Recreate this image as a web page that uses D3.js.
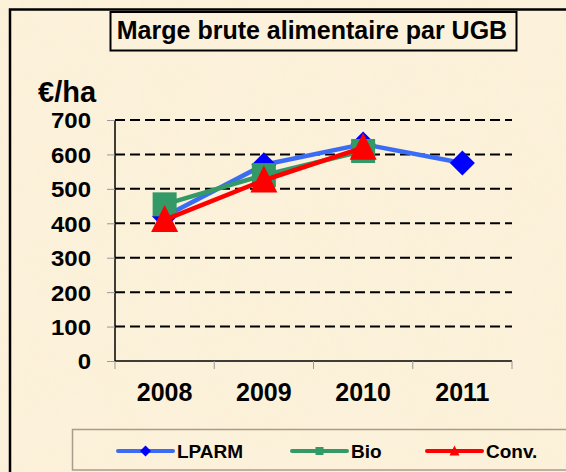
<!DOCTYPE html>
<html>
<head>
<meta charset="utf-8">
<script src="https://cdn.jsdelivr.net/npm/d3@7"></script>
<style>
  html, body { margin: 0; padding: 0; background: #fbefd6; }
  svg { display: block; font-family: "Liberation Sans", Arial, sans-serif; }
</style>
</head>
<body>
<svg id="chart"></svg>
<script>
// categories and series
const years  = ['2008', '2009', '2010', '2011']
const lparm  = [420, 570, 630, 575]
const bio    = [455, 540, 610, null]
const conv   = [410, 525, 620, null]
const yTicks = [0, 100, 200, 300, 400, 500, 600, 700]

const series = [
  { name: 'LPARM', values: lparm, line: '#3a6cf4', mark: '#0000ff', shape: 'diamond' },
  { name: 'Bio',   values: bio,   line: '#339966', mark: '#339966', shape: 'square' },
  { name: 'Conv.', values: conv,  line: '#ff0000', mark: '#ff0000', shape: 'triangle' }
]

const W = 566, H = 472
const svg = d3.select('#chart').attr('width', W).attr('height', H)

// parchment background
const defs = svg.append('defs')
const f = defs.append('filter').attr('id', 'paper').attr('x', 0).attr('y', 0).attr('width', '100%').attr('height', '100%')
f.append('feTurbulence').attr('type', 'fractalNoise').attr('baseFrequency', 0.02).attr('numOctaves', 3).attr('seed', 4).attr('result', 'n')
f.append('feColorMatrix').attr('in', 'n').attr('type', 'matrix')
  .attr('values', '0 0 0 0 0.93  0 0 0 0 0.84  0 0 0 0 0.62  0.6 0 0 0 -0.2')
svg.append('rect').attr('width', W).attr('height', H).attr('fill', '#fcf1da')
svg.append('rect').attr('width', W).attr('height', H).attr('filter', 'url(#paper)').attr('opacity', 0.5)

// outer frame
svg.append('rect').attr('x', 10).attr('y', 9.5).attr('width', 600).attr('height', 500)
  .attr('fill', 'none').attr('stroke', '#000').attr('stroke-width', 2.5)

// title box
svg.append('rect').attr('x', 110.5).attr('y', 12).attr('width', 406).attr('height', 38.5)
  .attr('fill', '#fcf2dc').attr('stroke', '#000').attr('stroke-width', 2)
svg.append('text').attr('x', 312).attr('y', 39).attr('text-anchor', 'middle')
  .attr('font-size', 25).attr('font-weight', 'bold').text('Marge brute alimentaire par UGB')

// unit
svg.append('text').attr('x', 38).attr('y', 102)
  .attr('font-size', 29).attr('font-weight', 'bold').text('€/ha')

const pLeft = 115, pRight = 512, pTop = 120, pBottom = 361

const x = d3.scaleBand().domain(years).range([pLeft, pRight])
const y = d3.scaleLinear().domain([0, 700]).range([pBottom, pTop])

// gridlines
svg.append('g').selectAll('line').data(yTicks.filter(d => d > 0)).join('line')
  .attr('x1', pLeft).attr('x2', pRight)
  .attr('y1', d => y(d)).attr('y2', d => y(d))
  .attr('stroke', '#000').attr('stroke-width', 2).attr('stroke-dasharray', '10,5')

// y axis
const yAxis = svg.append('g').attr('transform', 'translate(' + pLeft + ',0)')
  .call(d3.axisLeft(y).tickValues(yTicks).tickSize(8).tickPadding(16))
yAxis.select('.domain').attr('stroke', '#000').attr('stroke-width', 1.5).attr('d', 'M0,' + pTop + 'V' + pBottom)
yAxis.selectAll('.tick line').attr('stroke', '#999')
yAxis.selectAll('.tick text').attr('font-size', 22).attr('font-weight', 'bold').attr('fill', '#000')
  .attr('font-family', '"Liberation Sans", Arial, sans-serif')
  .attr('x', 0).attr('text-anchor', 'end')
  .attr('transform', 'translate(-24,0) scale(1.09,1)')
  .attr('dy', '0.36em')

// x axis
const xAxis = svg.append('g').attr('transform', 'translate(0,' + pBottom + ')')
xAxis.append('line').attr('x1', pLeft).attr('x2', pRight).attr('stroke', '#000').attr('stroke-width', 1.5)
const edges = years.map(d => x(d)).concat([pRight])
xAxis.selectAll('line.tk').data(edges).join('line').attr('class', 'tk')
  .attr('x1', d => d).attr('x2', d => d).attr('y1', 0).attr('y2', 8).attr('stroke', '#999')
xAxis.selectAll('text').data(years).join('text')
  .attr('x', d => x(d) + x.bandwidth() / 2).attr('y', 40)
  .attr('text-anchor', 'middle').attr('font-size', 25).attr('font-weight', 'bold').text(d => d)

// shapes (s = full width of the marker)
const symbolOf = {
  diamond: (s) => 'M0,' + (-s / 2) + 'L' + (s / 2) + ',0L0,' + (s / 2) + 'L' + (-s / 2) + ',0Z',
  square: (s) => 'M' + (-s / 2) + ',' + (-s / 2) + 'h' + s + 'v' + s + 'h' + (-s) + 'Z',
  triangle: (s) => 'M0,' + (-s * 0.55) + 'L' + (s / 2) + ',' + (s * 0.45) + 'L' + (-s / 2) + ',' + (s * 0.45) + 'Z'
}

const line = d3.line()
  .defined(d => d.v != null)
  .x(d => x(d.k) + x.bandwidth() / 2)
  .y(d => y(d.v))

series.forEach(s => {
  const pts = years.map((k, i) => ({ k: k, v: s.values[i] }))
  const g = svg.append('g')
  g.append('path').attr('d', line(pts)).attr('fill', 'none')
    .attr('stroke', s.line).attr('stroke-width', 4.5).attr('stroke-linejoin', 'round')
  const size = s.shape === 'diamond' ? 25 : s.shape === 'square' ? 24 : 27
  g.selectAll('path.m').data(pts.filter(d => d.v != null)).join('path').attr('class', 'm')
    .attr('d', symbolOf[s.shape](size))
    .attr('transform', d => 'translate(' + (x(d.k) + x.bandwidth() / 2) + ',' + y(d.v) + ')')
    .attr('fill', s.mark)
})

// legend
svg.append('rect').attr('x', 72.5).attr('y', 429.5).attr('width', 520).attr('height', 40.5)
  .attr('fill', 'none').attr('stroke', '#a89c8a').attr('stroke-width', 1.5)
const legX = [118, 292, 427]
const leg = svg.append('g').selectAll('g').data(series).join('g')
  .attr('transform', (d, i) => 'translate(' + legX[i] + ',451)')
leg.append('line').attr('x1', 0).attr('x2', 55).attr('stroke', d => d.line).attr('stroke-width', 4)
  .attr('stroke-linecap', 'round')
leg.append('path').attr('d', d => symbolOf[d.shape](d.shape === 'diamond' ? 11 : d.shape === 'triangle' ? 10 : 8))
  .attr('transform', 'translate(27.5,0)').attr('fill', d => d.mark)
leg.append('text').attr('x', 59).attr('y', 6.5).attr('font-size', 19).attr('font-weight', 'bold')
  .text(d => d.name)
</script>
</body>
</html>
